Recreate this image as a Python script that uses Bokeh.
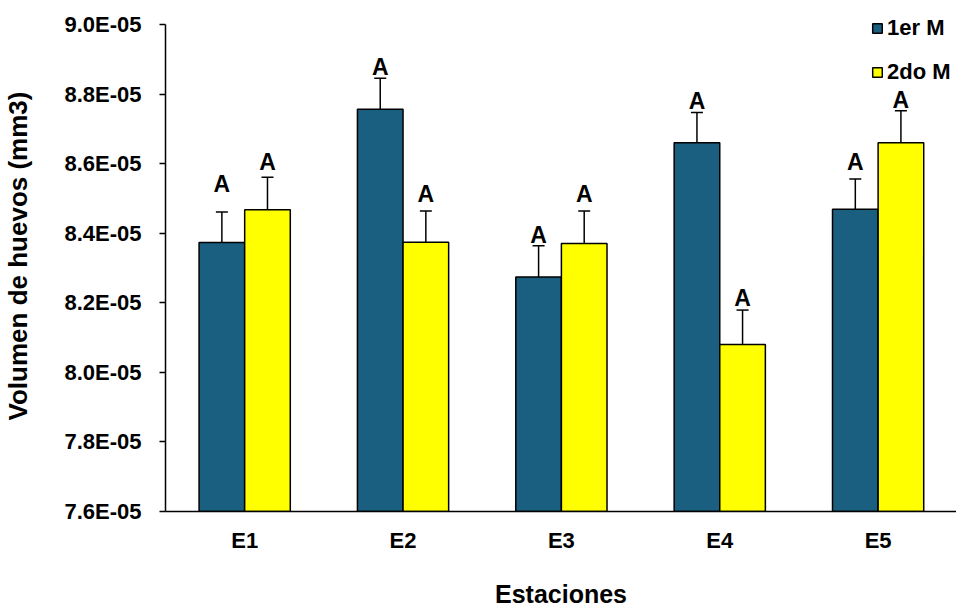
import numpy as np
from bokeh.plotting import figure
from bokeh.models import (ColumnDataSource, Whisker, TeeHead, Legend, LegendItem,
                          FixedTicker, Range1d)
from bokeh.core.properties import value
from bokeh.embed import file_html
from bokeh.resources import INLINE

# ---------------- data ----------------
estaciones = ["E1", "E2", "E3", "E4", "E5"]
series_names = ["1er M", "2do M"]
mean_1er = [8.373e-05, 8.756e-05, 8.274e-05, 8.660e-05, 8.469e-05]
mean_2do = [8.467e-05, 8.374e-05, 8.370e-05, 8.080e-05, 8.660e-05]
err_1er = [0.088e-05, 0.089e-05, 0.090e-05, 0.087e-05, 0.087e-05]
err_2do = [0.094e-05, 0.090e-05, 0.094e-05, 0.099e-05, 0.092e-05]
letters_1er = ["A", "A", "A", "A", "A"]
letters_2do = ["A", "A", "A", "A", "A"]
y_ticks = [7.6e-05, 7.8e-05, 8.0e-05, 8.2e-05, 8.4e-05, 8.6e-05, 8.8e-05, 9.0e-05]
y_tick_labels = ["7.6E-05", "7.8E-05", "8.0E-05", "8.2E-05", "8.4E-05",
                 "8.6E-05", "8.8E-05", "9.0E-05"]
x_title = "Estaciones"
y_title = "Volumen de huevos (mm3)"

# ---------------- style ----------------
FONT = "Liberation Sans"
BLUE = "#1A5E80"
YELLOW = "#FFFF00"
bar_w = 0.288
gap_1er = [28, 11, 11, 11, 17]      # px between error cap and letter anchor
gap_2do = [15, 17, 17, 12, 11]

xpos = np.arange(len(estaciones))
x_lo, x_hi = -0.5, 4.495
# frame reaches the top edge; 24 px of headroom above the last tick
axis_px = 488.7
y_lo = y_ticks[0]
y_hi = y_ticks[-1] + 24 * (y_ticks[-1] - y_ticks[0]) / axis_px

p = figure(width=956, height=610, output_backend="svg", toolbar_location=None,
           x_range=Range1d(x_lo, x_hi), y_range=Range1d(y_lo, y_hi),
           min_border_left=162, min_border_right=0, min_border_top=0,
           min_border_bottom=97)
p.outline_line_color = None
p.xgrid.visible = False
p.ygrid.visible = False
p.background_fill_color = "white"
p.border_fill_color = "white"

renderers = []
for off, means, errs, color, letters, gaps in [
        (-bar_w / 2, mean_1er, err_1er, BLUE, letters_1er, gap_1er),
        (bar_w / 2, mean_2do, err_2do, YELLOW, letters_2do, gap_2do)]:
    src = ColumnDataSource(dict(
        x=xpos + off, top=means,
        upper=np.array(means) + np.array(errs),
        lower=means, letter=letters, yoff=[-g for g in gaps]))
    r = p.vbar(x="x", top="top", bottom=y_lo, width=bar_w, source=src,
               fill_color=color, line_color="black", line_width=1.5)
    renderers.append(r)
    w = Whisker(source=src, base="x", upper="upper", lower="lower",
                dimension="height", line_color="black", line_width=1.5,
                upper_head=TeeHead(size=12, line_color="black", line_width=1.5),
                lower_head=None)
    p.add_layout(w)
    p.text(x="x", y="upper", text="letter", y_offset="yoff", source=src,
           text_align="center", text_baseline="alphabetic",
           text_font=value(FONT), text_font_style="bold",
           text_font_size="23px", text_color="black")

# axes
p.yaxis.bounds = (y_ticks[0], y_ticks[-1])
p.yaxis.ticker = FixedTicker(ticks=y_ticks)
p.yaxis.major_label_overrides = dict(zip(y_ticks, y_tick_labels))
p.yaxis.minor_tick_line_color = None
p.yaxis.major_tick_out = 6
p.yaxis.major_tick_in = 0
p.yaxis.major_tick_line_width = 1.5
p.yaxis.axis_line_width = 1.5
p.yaxis.major_label_standoff = 18
p.yaxis.major_label_text_font = FONT
p.yaxis.major_label_text_font_style = "bold"
p.yaxis.major_label_text_font_size = "22px"
p.yaxis.major_label_text_color = "black"
p.yaxis.axis_label = y_title
p.yaxis.axis_label_text_font = FONT
p.yaxis.axis_label_text_font_style = "bold"
p.yaxis.axis_label_text_font_size = "26px"
p.yaxis.axis_label_text_color = "black"
p.yaxis.axis_label_standoff = 28

p.xaxis.ticker = FixedTicker(ticks=list(xpos))
p.xaxis.major_label_overrides = {int(i): c for i, c in zip(xpos, estaciones)}
p.xaxis.minor_tick_line_color = None
p.xaxis.major_tick_line_color = None
p.xaxis.major_tick_out = 0
p.xaxis.major_tick_in = 0
p.xaxis.axis_line_width = 1.5
p.xaxis.major_label_standoff = 16
p.xaxis.major_label_text_font = FONT
p.xaxis.major_label_text_font_style = "bold"
p.xaxis.major_label_text_font_size = "22px"
p.xaxis.major_label_text_color = "black"
p.xaxis.axis_label = x_title
p.xaxis.axis_label_text_font = FONT
p.xaxis.axis_label_text_font_style = "bold"
p.xaxis.axis_label_text_font_size = "25px"
p.xaxis.axis_label_text_color = "black"
p.xaxis.axis_label_standoff = 24

legend = Legend(items=[LegendItem(label=n, renderers=[r])
                       for n, r in zip(series_names, renderers)],
                location=(706, 426), orientation="vertical",
                glyph_width=12, glyph_height=12, label_height=22,
                label_standoff=4, spacing=18, padding=0, margin=0,
                label_text_font=FONT, label_text_font_style="bold",
                label_text_font_size="22px", label_text_color="black",
                background_fill_alpha=0, border_line_color=None)
p.add_layout(legend, "center")

open("out.html", "w").write(file_html(p, INLINE))
